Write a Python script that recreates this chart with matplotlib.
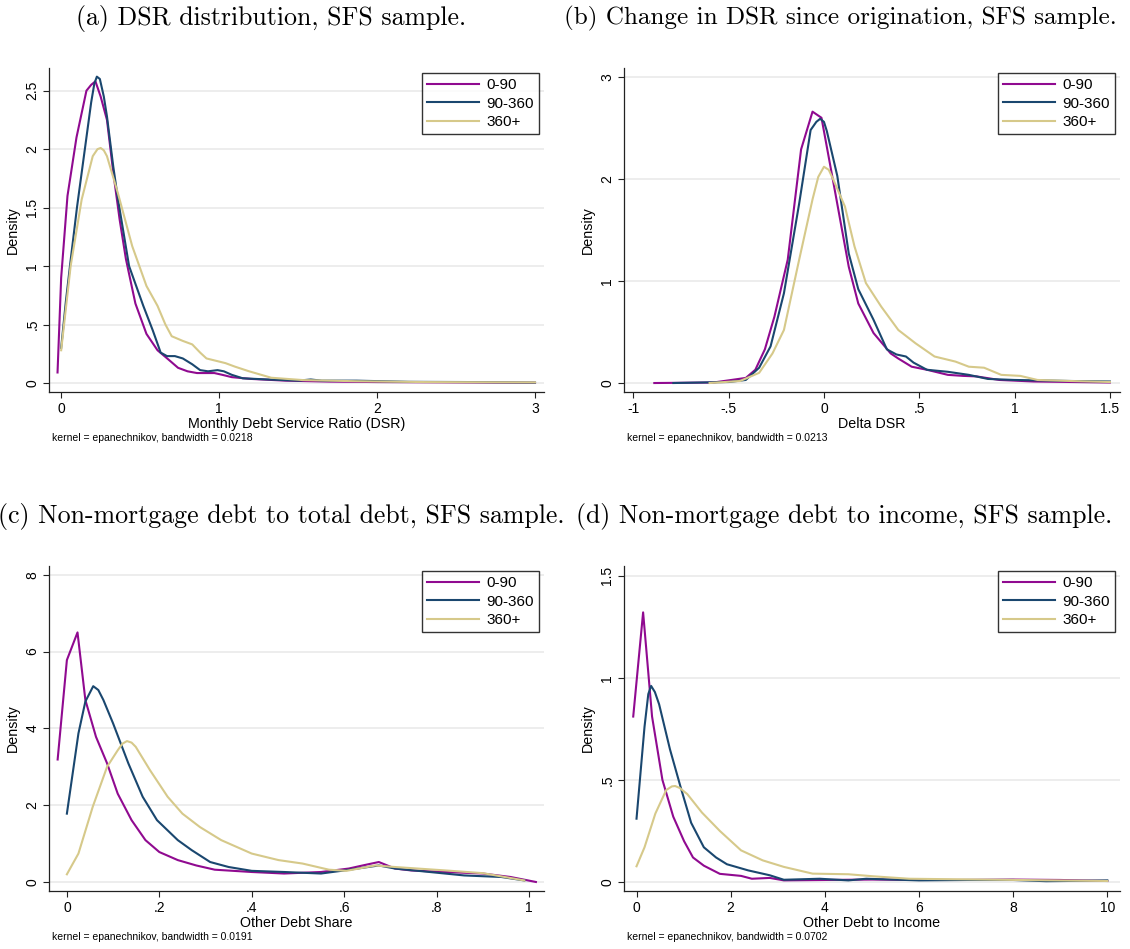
import matplotlib
matplotlib.use("Agg")
import matplotlib.pyplot as plt

W, H = 1130, 949
DPI = 100

# ---------------- data ----------------
series_names = ["0-90", "90-360", "360+"]

# (a) DSR distribution
a_x_090 = [-0.023, 0.0, 0.04, 0.097, 0.16, 0.19, 0.217, 0.25, 0.29, 0.33, 0.37, 0.41, 0.47, 0.54, 0.61, 0.68, 0.74, 0.80, 0.86, 0.92, 0.97, 1.02, 1.08, 1.2, 1.42, 1.7, 2.0, 2.5, 3.0]
a_y_090 = [0.09, 0.9, 1.6, 2.1, 2.5, 2.55, 2.58, 2.45, 2.25, 1.8, 1.4, 1.06, 0.68, 0.42, 0.28, 0.2, 0.13, 0.1, 0.085, 0.085, 0.085, 0.07, 0.05, 0.035, 0.02, 0.012, 0.008, 0.005, 0.002]
a_x_90360 = [0.0, 0.03, 0.06, 0.1, 0.15, 0.19, 0.21, 0.226, 0.245, 0.27, 0.29, 0.33, 0.36, 0.43, 0.52, 0.58, 0.63, 0.67, 0.72, 0.77, 0.83, 0.88, 0.93, 0.99, 1.03, 1.08, 1.15, 1.31, 1.5, 1.58, 1.65, 1.87, 2.2, 2.6, 3.0]
a_y_90360 = [0.3, 0.7, 1.05, 1.5, 2.0, 2.4, 2.56, 2.62, 2.6, 2.45, 2.28, 1.85, 1.57, 1.0, 0.66, 0.45, 0.26, 0.23, 0.23, 0.21, 0.16, 0.11, 0.1, 0.11, 0.1, 0.07, 0.04, 0.03, 0.02, 0.03, 0.02, 0.02, 0.01, 0.008, 0.003]
a_x_360 = [0.0, 0.06, 0.13, 0.2, 0.23, 0.25, 0.27, 0.29, 0.36, 0.45, 0.54, 0.61, 0.66, 0.70, 0.77, 0.83, 0.88, 0.92, 1.04, 1.1, 1.19, 1.33, 1.53, 1.87, 2.3, 3.0]
a_y_360 = [0.28, 1.0, 1.57, 1.94, 2.0, 2.01, 1.99, 1.94, 1.62, 1.17, 0.83, 0.66, 0.5, 0.40, 0.36, 0.33, 0.26, 0.21, 0.17, 0.14, 0.10, 0.045, 0.025, 0.015, 0.008, 0.005]

# (b) Change in DSR
b_x_090 = [-0.89, -0.58, -0.41, -0.36, -0.31, -0.26, -0.19, -0.12, -0.06, -0.013, 0.05, 0.13, 0.18, 0.26, 0.35, 0.39, 0.46, 0.54, 0.65, 0.73, 0.80, 0.92, 1.1, 1.3, 1.5]
b_y_090 = [0.0, 0.005, 0.05, 0.13, 0.33, 0.65, 1.21, 2.29, 2.66, 2.6, 1.96, 1.14, 0.78, 0.49, 0.29, 0.24, 0.16, 0.13, 0.08, 0.07, 0.065, 0.03, 0.015, 0.01, 0.005]
b_x_90360 = [-0.79, -0.5, -0.41, -0.34, -0.28, -0.21, -0.13, -0.07, -0.04, -0.02, 0.0, 0.015, 0.07, 0.13, 0.18, 0.26, 0.33, 0.38, 0.43, 0.47, 0.54, 0.65, 0.76, 0.86, 1.0, 1.29, 1.5]
b_y_90360 = [0.0, 0.01, 0.03, 0.15, 0.36, 0.88, 1.76, 2.48, 2.56, 2.59, 2.56, 2.47, 2.03, 1.27, 0.92, 0.62, 0.33, 0.28, 0.26, 0.2, 0.13, 0.11, 0.08, 0.04, 0.03, 0.02, 0.015]
b_x_360 = [-0.6, -0.44, -0.34, -0.27, -0.21, -0.13, -0.06, -0.03, 0.0, 0.025, 0.05, 0.11, 0.16, 0.22, 0.30, 0.39, 0.48, 0.58, 0.69, 0.76, 0.84, 0.93, 1.03, 1.12, 1.29, 1.5]
b_y_360 = [0.0, 0.02, 0.1, 0.29, 0.52, 1.21, 1.8, 2.02, 2.12, 2.09, 1.99, 1.73, 1.34, 0.98, 0.75, 0.52, 0.39, 0.26, 0.21, 0.16, 0.15, 0.08, 0.07, 0.03, 0.02, 0.01]

# (c) Other debt share
c_x_090 = [-0.02, 0.0, 0.023, 0.04, 0.063, 0.087, 0.11, 0.14, 0.17, 0.2, 0.24, 0.28, 0.32, 0.40, 0.47, 0.55, 0.61, 0.64, 0.675, 0.71, 0.745, 0.82, 0.90, 0.96, 1.015]
c_y_090 = [3.19, 5.78, 6.5, 4.74, 3.78, 3.09, 2.3, 1.61, 1.09, 0.78, 0.57, 0.43, 0.32, 0.26, 0.22, 0.26, 0.35, 0.43, 0.52, 0.35, 0.3, 0.26, 0.22, 0.13, 0.0]
c_x_90360 = [0.0, 0.025, 0.04, 0.057, 0.068, 0.079, 0.10, 0.133, 0.164, 0.195, 0.24, 0.27, 0.31, 0.35, 0.40, 0.47, 0.55, 0.60, 0.675, 0.71, 0.785, 0.86, 0.94, 0.99]
c_y_90360 = [1.78, 3.87, 4.7, 5.1, 5.0, 4.74, 4.13, 3.09, 2.22, 1.61, 1.09, 0.83, 0.52, 0.39, 0.29, 0.26, 0.22, 0.30, 0.43, 0.35, 0.26, 0.17, 0.13, 0.04]
c_x_360 = [0.0, 0.025, 0.056, 0.087, 0.11, 0.12, 0.13, 0.14, 0.149, 0.18, 0.218, 0.25, 0.288, 0.334, 0.40, 0.458, 0.51, 0.567, 0.605, 0.667, 0.71, 0.82, 0.90, 0.99]
c_y_360 = [0.2, 0.74, 1.96, 3.0, 3.43, 3.6, 3.67, 3.63, 3.52, 2.91, 2.22, 1.78, 1.43, 1.09, 0.74, 0.57, 0.48, 0.32, 0.29, 0.43, 0.39, 0.30, 0.23, 0.04]

# (d) Other debt to income
d_x_090 = [-0.07, 0.14, 0.33, 0.55, 0.78, 1.01, 1.2, 1.43, 1.77, 2.22, 2.45, 2.83, 3.13, 4.0, 5.0, 6.0, 7.0, 8.0, 9.0, 10.0]
d_y_090 = [0.81, 1.32, 0.81, 0.50, 0.32, 0.20, 0.12, 0.08, 0.04, 0.03, 0.016, 0.02, 0.008, 0.01, 0.012, 0.01, 0.01, 0.012, 0.01, 0.005]
d_x_90360 = [0.0, 0.17, 0.25, 0.31, 0.39, 0.48, 0.71, 0.93, 1.16, 1.43, 1.69, 1.92, 2.37, 2.83, 3.13, 3.89, 4.5, 4.88, 6.0, 7.0, 8.0, 8.7, 9.5, 10.0]
d_y_90360 = [0.31, 0.76, 0.92, 0.96, 0.93, 0.87, 0.65, 0.47, 0.29, 0.17, 0.12, 0.087, 0.057, 0.033, 0.011, 0.016, 0.008, 0.016, 0.008, 0.01, 0.01, 0.004, 0.006, 0.008]
d_x_360 = [0.0, 0.17, 0.40, 0.63, 0.75, 0.82, 0.92, 1.08, 1.39, 1.77, 2.22, 2.68, 3.13, 3.74, 4.5, 5.03, 5.79, 7.69, 10.0]
d_y_360 = [0.077, 0.17, 0.335, 0.45, 0.468, 0.47, 0.46, 0.43, 0.34, 0.25, 0.155, 0.106, 0.074, 0.041, 0.038, 0.028, 0.016, 0.011, 0.005]

titles = ["(a) DSR distribution, SFS sample.",
          "(b) Change in DSR since origination, SFS sample.",
          "(c) Non-mortgage debt to total debt, SFS sample.",
          "(d) Non-mortgage debt to income, SFS sample."]
xlabels = ["Monthly Debt Service Ratio (DSR)", "Delta DSR", "Other Debt Share", "Other Debt to Income"]
notes = ["kernel = epanechnikov, bandwidth = 0.0218",
         "kernel = epanechnikov, bandwidth = 0.0213",
         "kernel = epanechnikov, bandwidth = 0.0191",
         "kernel = epanechnikov, bandwidth = 0.0702"]
xticks = [[0, 1, 2, 3], [-1, -0.5, 0, 0.5, 1, 1.5], [0, 0.2, 0.4, 0.6, 0.8, 1], [0, 2, 4, 6, 8, 10]]
xticklabels = [["0", "1", "2", "3"], ["-1", "-.5", "0", ".5", "1", "1.5"],
               ["0", ".2", ".4", ".6", ".8", "1"], ["0", "2", "4", "6", "8", "10"]]
yticks = [[0, 0.5, 1, 1.5, 2, 2.5], [0, 1, 2, 3], [0, 2, 4, 6, 8], [0, 0.5, 1, 1.5]]
yticklabels = [["0", ".5", "1", "1.5", "2", "2.5"], ["0", "1", "2", "3"],
               ["0", "2", "4", "6", "8"], ["0", ".5", "1", "1.5"]]
xlims = [(-0.077, 3.057), (-1.049, 1.553), (-0.0387, 1.0325), (-0.266, 10.27)]
ylims = [(-0.077, 2.694), (-0.088, 3.088), (-0.235, 8.23), (-0.044, 1.547)]

colors = ["#900a90", "#1a476f", "#d6c98a"]

panel_data = [
    [(a_x_090, a_y_090), (a_x_90360, a_y_90360), (a_x_360, a_y_360)],
    [(b_x_090, b_y_090), (b_x_90360, b_y_90360), (b_x_360, b_y_360)],
    [(c_x_090, c_y_090), (c_x_90360, c_y_90360), (c_x_360, c_y_360)],
    [(d_x_090, d_y_090), (d_x_90360, d_y_90360), (d_x_360, d_y_360)],
]

# ---------------- layout (pixels) ----------------
boxes = [(49, 68, 544, 392), (624, 68, 1120, 392), (49, 566, 544, 891), (624, 566, 1120, 891)]
title_pos = [(76, 18), (564, 18), (-2, 517), (576, 517)]
title_sizes = [18.6, 18.1, 18.6, 18.6]

plt.rcParams['font.family'] = ['Liberation Sans', 'DejaVu Sans']

fig = plt.figure(figsize=(W / DPI, H / DPI), dpi=DPI)

def fx(x):
    return x / W

def fy(y):
    return 1 - y / H

for i in range(4):
    l, t, r, b = boxes[i]
    ax = fig.add_axes([fx(l), fy(b), (r - l) / W, (b - t) / H])
    for (xs, ys), c, name in zip(panel_data[i], colors, series_names):
        ax.plot(xs, ys, color=c, lw=1.5, label=name, solid_joinstyle='round')
    ax.set_xlim(*xlims[i])
    ax.set_ylim(*ylims[i])
    ax.set_xticks(xticks[i])
    ax.set_xticklabels(xticklabels[i])
    ax.set_yticks(yticks[i])
    ax.set_yticklabels(yticklabels[i], rotation=90, va='center')
    ax.grid(axis='y', color='#e8e8e8', lw=1.1)
    ax.set_axisbelow(True)
    for s in ['top', 'right']:
        ax.spines[s].set_visible(False)
    for s in ['left', 'bottom']:
        ax.spines[s].set_color('#222222')
        ax.spines[s].set_linewidth(0.9)
    ax.tick_params(direction='out', length=4, width=0.8, color='#222222',
                   labelsize=10, pad=3)
    ax.set_xlabel(xlabels[i], fontsize=10.3, labelpad=1)
    ax.set_ylabel("Density", fontsize=10.3, labelpad=4)
    leg = ax.legend(loc='upper right', fontsize=11, frameon=True, fancybox=False,
                    edgecolor='black', handlelength=3.4, handletextpad=0.5,
                    labelspacing=0.3, borderaxespad=0.3, borderpad=0.35)
    leg.get_frame().set_linewidth(1.0)
    fig.text(fx(l + 3), fy(b + 46), notes[i], fontsize=7.5, va='center', ha='left')
    tx, ty = title_pos[i]
    fig.text(fx(tx), fy(ty), titles[i], fontsize=title_sizes[i], fontfamily='cmr10',
             va='center', ha='left')

fig.savefig("out.png", dpi=DPI)
